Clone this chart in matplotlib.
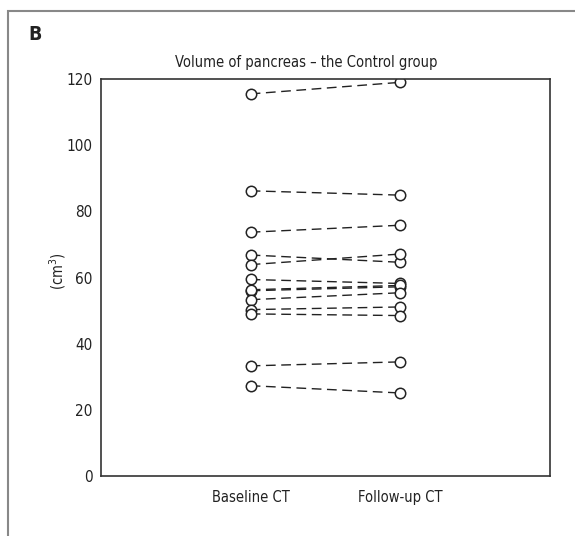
import matplotlib.pyplot as plt
from matplotlib.patches import Rectangle

plt.rcParams['font.family'] = ['DejaVu Sans']
plt.rcParams['font.stretch'] = 'condensed'

# Pancreas volume (cm3) per subject, baseline vs follow-up
baseline = [115.5, 86.2, 73.7, 66.8, 63.9, 59.4, 56.0, 56.3, 53.3, 50.3, 49.0, 33.3, 27.3]
followup = [119.0, 84.9, 75.8, 64.6, 67.1, 58.2, 57.2, 57.6, 55.4, 51.1, 48.5, 34.5, 25.1]
groups = ['Baseline CT', 'Follow-up CT']
yticks = [0, 20, 40, 60, 80, 100, 120]

fig = plt.figure(figsize=(5.75, 5.36), dpi=100)
ax = fig.add_axes([0.1757, 0.1119, 0.7808, 0.7407])

for b, f in zip(baseline, followup):
    ax.plot([1, 2], [b, f], color='#222222', lw=1.0, ls=(0, (7, 4)),
            marker='o', ms=7.5, mfc='white', mec='#222222', mew=1.1)

ax.set_xlim(0, 3)
ax.set_ylim(0, 120)
ax.set_xticks([1, 2])
ax.set_xticklabels(groups, fontsize=10.5)
ax.set_yticks(yticks)
ax.tick_params(axis='both', length=0, labelsize=11, colors='#222222')
ax.tick_params(axis='y', pad=6)
ax.tick_params(axis='x', pad=10, labelsize=10.5)
for s in ax.spines.values():
    s.set_color('#333333')
    s.set_linewidth(1.2)

ax.set_ylabel('(cm$^3$)', fontsize=10.5, color='#222222')
ax.yaxis.set_label_coords(-0.0735, 0.515)
ax.set_title('Volume of pancreas \u2013 the Control group', fontsize=10.5,
             color='#222222', pad=9, x=0.4566)

fig.text(0.049, 0.925, 'B', fontsize=14, fontweight='bold', color='#222222')

# outer panel frame
fig.patches.append(Rectangle((8 / 575, -0.1), 1.2, 1 - 11 / 536 + 0.1,
                             transform=fig.transFigure, fill=False,
                             edgecolor='#888888', lw=1.5))

fig.savefig('out.png', dpi=100)
